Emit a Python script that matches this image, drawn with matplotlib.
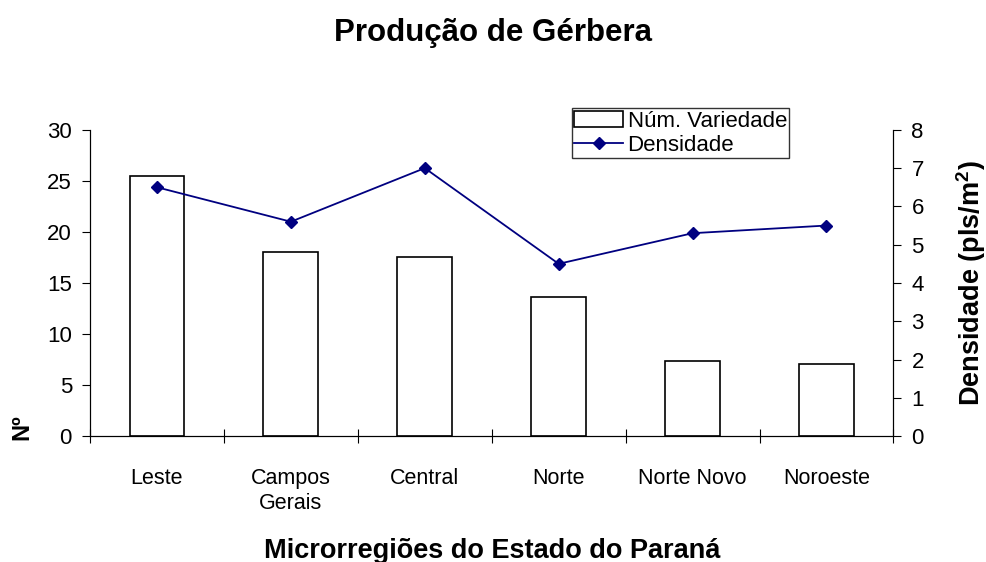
import matplotlib.pyplot as plt
import numpy as np

plt.rcParams['font.family'] = ['Liberation Sans', 'DejaVu Sans']
plt.rcParams['mathtext.fontset'] = 'custom'
plt.rcParams['mathtext.bf'] = 'Liberation Sans:bold'
plt.rcParams['mathtext.rm'] = 'Liberation Sans'

# data
regioes = ['Leste', 'Campos\nGerais', 'Central', 'Norte', 'Norte Novo', 'Noroeste']
num_variedade = [25.5, 18.0, 17.5, 13.6, 7.4, 7.1]
densidade = [6.5, 5.6, 7.0, 4.5, 5.3, 5.5]

fig = plt.figure(figsize=(9.87, 5.62), dpi=100)
ax = fig.add_axes([0.0912, 0.224, 0.814, 0.545])
x = np.arange(len(regioes)) + 0.5

ax.bar(x, num_variedade, width=0.41, color='white', edgecolor='black',
       linewidth=1.2, label='Núm. Variedade')
ax.set_xlim(0, 6)
ax.set_ylim(0, 30)
ax.set_yticks(range(0, 31, 5))
ax.set_xticks(range(0, 7))
ax.set_xticklabels([])
ax.set_xticks(x, minor=True)
ax.set_xticklabels(regioes, minor=True, fontsize=15.5, linespacing=1.25)
ax.tick_params(axis='x', which='minor', length=0, pad=23)
ax.tick_params(axis='x', which='major', direction='inout', length=10)
ax.tick_params(axis='y', direction='out', length=6, labelsize=16, pad=7)
ax.spines['top'].set_visible(False)

ax2 = ax.twinx()
ax2.plot(x, densidade, color='#000080', marker='D', markersize=6,
         linewidth=1.3, label='Densidade')
ax2.set_ylim(0, 8)
ax2.set_yticks(range(0, 9))
ax2.tick_params(axis='y', direction='out', length=6, labelsize=16, pad=7)
ax2.spines['top'].set_visible(False)

fig.suptitle('Produção de Gérbera', fontsize=22.5, fontweight='bold', y=0.968)
ax.set_xlabel('Microrregiões do Estado do Paraná', fontsize=19.5,
              fontweight='bold', labelpad=17)
fig.text(0.022, 0.24, 'Nº', rotation=90, fontsize=17, fontweight='bold',
         ha='center', va='center')
ax2.set_ylabel('Densidade (pls/m$^\\mathbf{2}$)', fontsize=19.5,
               fontweight='bold', labelpad=22)

h1, l1 = ax.get_legend_handles_labels()
h2, l2 = ax2.get_legend_handles_labels()
leg = ax2.legend(h1 + h2, l1 + l2, loc='upper left',
                 bbox_to_anchor=(0.6, 1.07), fontsize=16, frameon=True,
                 fancybox=False, edgecolor='black', borderpad=0.1,
                 handlelength=2.2, handletextpad=0.2, labelspacing=0.15,
                 borderaxespad=0)
leg.get_frame().set_linewidth(1.0)

fig.savefig('out.png', dpi=100)
